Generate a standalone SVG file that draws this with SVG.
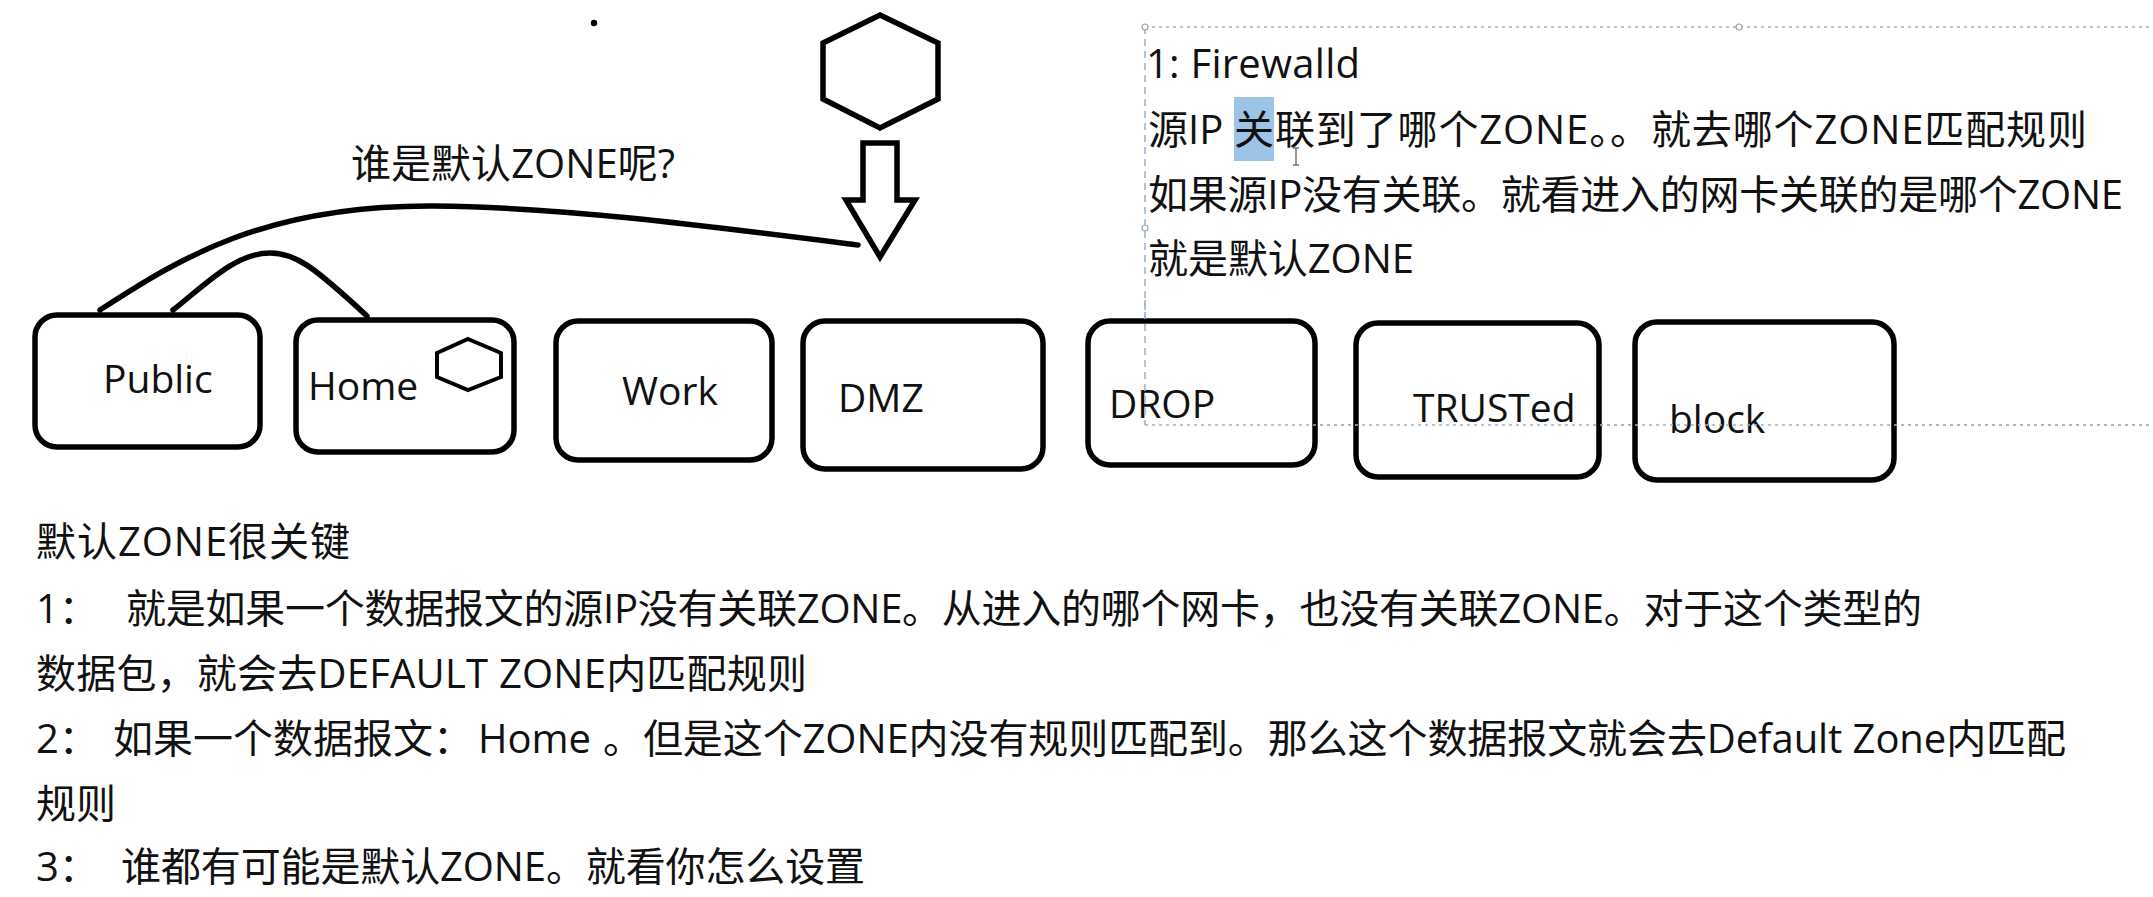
<svg xmlns="http://www.w3.org/2000/svg" width="2153" height="897" viewBox="0 0 2153 897">
<style>
.t{font-family:"Open Sans","Noto Sans CJK SC",sans-serif;fill:#111;}
.lbl{font-family:"Open Sans","Noto Sans CJK SC",sans-serif;font-size:39px;fill:#111;}
.box{fill:#fff;stroke:#000;stroke-width:5.5;}
.shape{fill:#fff;stroke:#000;stroke-width:5.5;stroke-linejoin:miter;}
.curve{fill:none;stroke:#000;stroke-width:5.5;stroke-linecap:round;}
.sel{fill:none;stroke:#9fb3c8;stroke-width:1.6;}
.handle{fill:#fff;stroke:#9aa6b2;stroke-width:1.2;}
</style>
<rect width="2153" height="897" fill="#fff"/>

<!-- selection frame of the text panel -->
<g id="selection">
<line class="sel" x1="1145" y1="27" x2="2153" y2="27" stroke-dasharray="3 4"/>
<line class="sel" x1="1145" y1="425" x2="2153" y2="425" stroke-dasharray="3 4"/>
<line class="sel" x1="1145" y1="27" x2="1145" y2="425" stroke-dasharray="7 5"/>
<circle class="handle" cx="1145" cy="27" r="3"/>
<circle class="handle" cx="1739" cy="27" r="3"/>
<circle class="handle" cx="1145" cy="228" r="3"/>
<rect class="handle" x="1142" y="422" width="6" height="6"/>
</g>

<circle id="dot" cx="594" cy="23" r="3.2" fill="#000"/>

<g id="hexagon">
<polygon class="shape" points="880,15 938,43 938,99 880,128 823,99 823,43"/>
</g>
<g id="arrow">
<polygon class="shape" points="863,143 897,143 897,200 915,200 880,257 846,200 863,200"/>
</g>

<g id="connectors">
<path class="curve" d="M100,310 C175,262 260,205 433,206 C560,207 700,225 858,245"/>
<path class="curve" d="M173,310 C205,285 235,253 270,253 C295,253 312,265 367,316"/>
</g>

<g id="label-question">
<text class="t" x="351" y="178" font-size="40" textLength="324" lengthAdjust="spacing">谁是默认ZONE呢?</text>
</g>

<g id="node-public"><rect class="box" x="35" y="315" width="225" height="132" rx="22"/><text class="lbl" x="103" y="393">Public</text></g>
<g id="node-home"><rect class="box" x="296" y="320" width="218" height="132" rx="22"/><text class="lbl" x="308" y="400">Home</text>
<polygon fill="#fff" stroke="#000" stroke-width="4" points="468,339 501,353 501,377 468,390 437,377 437,353"/></g>
<g id="node-work"><rect class="box" x="556" y="321" width="216" height="139" rx="22"/><text class="lbl" x="622" y="405">Work</text></g>
<g id="node-dmz"><rect class="box" x="803" y="321" width="240" height="148" rx="22"/><text class="lbl" x="838" y="412">DMZ</text></g>
<g id="node-drop"><rect class="box" x="1088" y="321" width="227" height="144" rx="22"/><text class="lbl" x="1109" y="418">DROP</text></g>
<g id="node-trusted"><rect class="box" x="1356" y="323" width="243" height="154" rx="22"/><text class="lbl" x="1413" y="422">TRUSTed</text></g>
<g id="node-block"><rect class="box" x="1635" y="322" width="259" height="158" rx="22"/><text class="lbl" x="1669" y="433">block</text></g>

<!-- dashed frame lines pass over the boxes in the reference -->
<line class="sel" x1="1145" y1="425" x2="2153" y2="425" stroke-dasharray="3 4"/>
<line class="sel" x1="1145" y1="300" x2="1145" y2="425" stroke-dasharray="7 5"/>

<g id="panel-text">
<rect x="1234" y="97" width="40" height="64" fill="#9dc3e6"/>
<text class="t" x="1146" y="78" font-size="40" textLength="214" lengthAdjust="spacing">1: Firewalld</text>
<text class="t" x="1148" y="144" font-size="40">源IP </text>
<text class="t" x="1234" y="144" font-size="40" textLength="853" lengthAdjust="spacing">关联到了哪个ZONE。。就去哪个ZONE匹配规则</text>
<text class="t" x="1148" y="209" font-size="40" textLength="975" lengthAdjust="spacing">如果源IP没有关联。就看进入的网卡关联的是哪个ZONE</text>
<text class="t" x="1148" y="273" font-size="40" textLength="266" lengthAdjust="spacing">就是默认ZONE</text>
<path d="M1293,148 h6 M1296,148 v17 M1293,165 h6" stroke="#777" stroke-width="1.5" fill="none"/>
</g>

<g id="notes">
<text class="t" x="36" y="556" font-size="40" textLength="314" lengthAdjust="spacing">默认ZONE很关键</text>
<text class="t" x="36" y="623" font-size="40">1：</text>
<text class="t" x="126" y="623" font-size="40" textLength="1796" lengthAdjust="spacing">就是如果一个数据报文的源IP没有关联ZONE。从进入的哪个网卡，也没有关联ZONE。对于这个类型的</text>
<text class="t" x="36" y="688" font-size="40" textLength="771" lengthAdjust="spacing">数据包，就会去DEFAULT ZONE内匹配规则</text>
<text class="t" x="36" y="753" font-size="40">2：</text>
<text class="t" x="113" y="753" font-size="40">如果一个数据报文：</text>
<text class="t" x="478" y="753" font-size="40">Home</text>
<text class="t" x="603" y="753" font-size="40" textLength="1463" lengthAdjust="spacing">。但是这个ZONE内没有规则匹配到。那么这个数据报文就会去Default Zone内匹配</text>
<text class="t" x="36" y="818" font-size="40">规则</text>
<text class="t" x="36" y="881" font-size="40">3：</text>
<text class="t" x="121" y="881" font-size="40" textLength="744" lengthAdjust="spacing">谁都有可能是默认ZONE。就看你怎么设置</text>
</g>
</svg>
